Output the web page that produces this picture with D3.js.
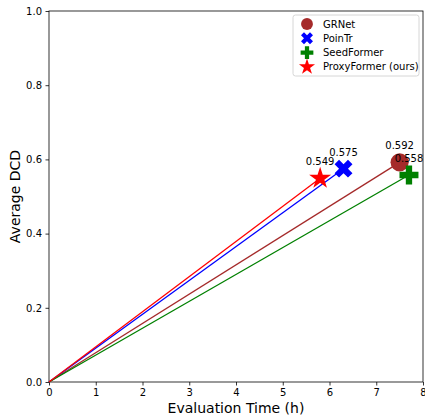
<!DOCTYPE html>
<html>
<head>
<meta charset="utf-8">
<script src="https://cdn.jsdelivr.net/npm/d3@7"></script>
<style>
  body { margin: 0; background: #fff; }
  text { font-family: "DejaVu Sans", sans-serif; }
</style>
</head>
<body>
<div id="chart"></div>
<script>
// data
var methods = ["GRNet", "PoinTr", "SeedFormer", "ProxyFormer (ours)"];
var evalTime = [7.5, 6.3, 7.7, 5.8];
var avgDCD = [0.592, 0.575, 0.558, 0.549];
var colors = ["#a52a2a", "#0000ff", "#008000", "#ff0000"];
var symbols = [d3.symbolCircle, d3.symbolCross, d3.symbolCross, d3.symbolStar];
var xTicks = [0, 1, 2, 3, 4, 5, 6, 7, 8];
var yTicks = [0.0, 0.2, 0.4, 0.6, 0.8, 1.0];

var svgWidth = 425;
var svgHeight = 419;
var margin = { top: 11, right: 2, bottom: 37, left: 49 };
var width = svgWidth - margin.left - margin.right;
var height = svgHeight - margin.top - margin.bottom;

var svg = d3.select("#chart").append("svg")
  .attr("width", svgWidth)
  .attr("height", svgHeight);

var chartGroup = svg.append("g")
  .attr("transform", `translate(${margin.left}, ${margin.top})`);

var xScale = d3.scaleLinear().domain([0, 8]).range([0, width]);
var yScale = d3.scaleLinear().domain([0, 1]).range([height, 0]);

// axes
var xAxis = chartGroup.append("g")
  .attr("transform", `translate(0, ${height})`)
  .call(d3.axisBottom(xScale).tickValues(xTicks).tickSizeOuter(0).tickSize(3.5).tickPadding(3.5).tickFormat(d3.format("d")));
var yAxis = chartGroup.append("g")
  .call(d3.axisLeft(yScale).tickValues(yTicks).tickSizeOuter(0).tickSize(3.5).tickPadding(3.5).tickFormat(d3.format(".1f")));
[xAxis, yAxis].forEach(function(a) {
  a.selectAll("text").attr("font-size", "10px").attr("fill", "#000").style("font-family", "DejaVu Sans");
  a.selectAll("line").attr("stroke", "#000").attr("stroke-width", 0.8);
  a.select(".domain").remove();
});

// frame
chartGroup.append("rect")
  .attr("width", width).attr("height", height)
  .attr("fill", "none").attr("stroke", "#000").attr("stroke-width", 0.8);

// lines from origin
var idx = d3.range(methods.length);
chartGroup.selectAll(".ln")
  .data(idx)
  .enter()
  .append("line")
  .attr("x1", xScale(0)).attr("y1", yScale(0))
  .attr("x2", i => xScale(evalTime[i]))
  .attr("y2", i => yScale(avgDCD[i]))
  .attr("stroke", i => colors[i])
  .attr("stroke-width", 1.3);

// markers
var sizes = [260, 200, 200, 150];
chartGroup.selectAll(".mk")
  .data(idx)
  .enter()
  .append("path")
  .attr("d", i => d3.symbol().type(symbols[i]).size(sizes[i])())
  .attr("transform", function(i) {
    var rot = methods[i] == "PoinTr" ? 45 : 0;
    return `translate(${xScale(evalTime[i])}, ${yScale(avgDCD[i])}) rotate(${rot})`;
  })
  .attr("fill", i => colors[i]);

// value labels
chartGroup.selectAll(".vl")
  .data(idx)
  .enter()
  .append("text")
  .attr("x", i => xScale(evalTime[i]))
  .attr("y", i => yScale(avgDCD[i]) - 13)
  .attr("text-anchor", "middle")
  .attr("font-size", "10px")
  .text(i => avgDCD[i].toFixed(3));

// legend
var legend = chartGroup.append("g")
  .attr("transform", `translate(${width - 130}, 4)`);
legend.append("rect")
  .attr("width", 126).attr("height", 61).attr("rx", 2.5)
  .attr("fill", "#fff").attr("fill-opacity", 0.8)
  .attr("stroke", "#ccc").attr("stroke-width", 0.8);
var legSizes = [110, 90, 90, 80];
idx.forEach(function(i) {
  var yy = 9 + i * 14.3;
  var rot = methods[i] == "PoinTr" ? 45 : 0;
  legend.append("path")
    .attr("d", d3.symbol().type(symbols[i]).size(legSizes[i])())
    .attr("transform", `translate(14, ${yy}) rotate(${rot})`)
    .attr("fill", colors[i]);
  legend.append("text")
    .attr("x", 30).attr("y", yy + 3.5)
    .attr("font-size", "10px")
    .text(methods[i]);
});

// axis titles
svg.append("text")
  .attr("x", margin.left + width / 2)
  .attr("y", 413)
  .attr("text-anchor", "middle")
  .attr("font-size", "14px")
  .text("Evaluation Time (h)");

svg.append("text")
  .attr("transform", `translate(20, ${margin.top + height / 2}) rotate(-90)`)
  .attr("text-anchor", "middle")
  .attr("font-size", "14px")
  .text("Average DCD");
</script>
</body>
</html>
